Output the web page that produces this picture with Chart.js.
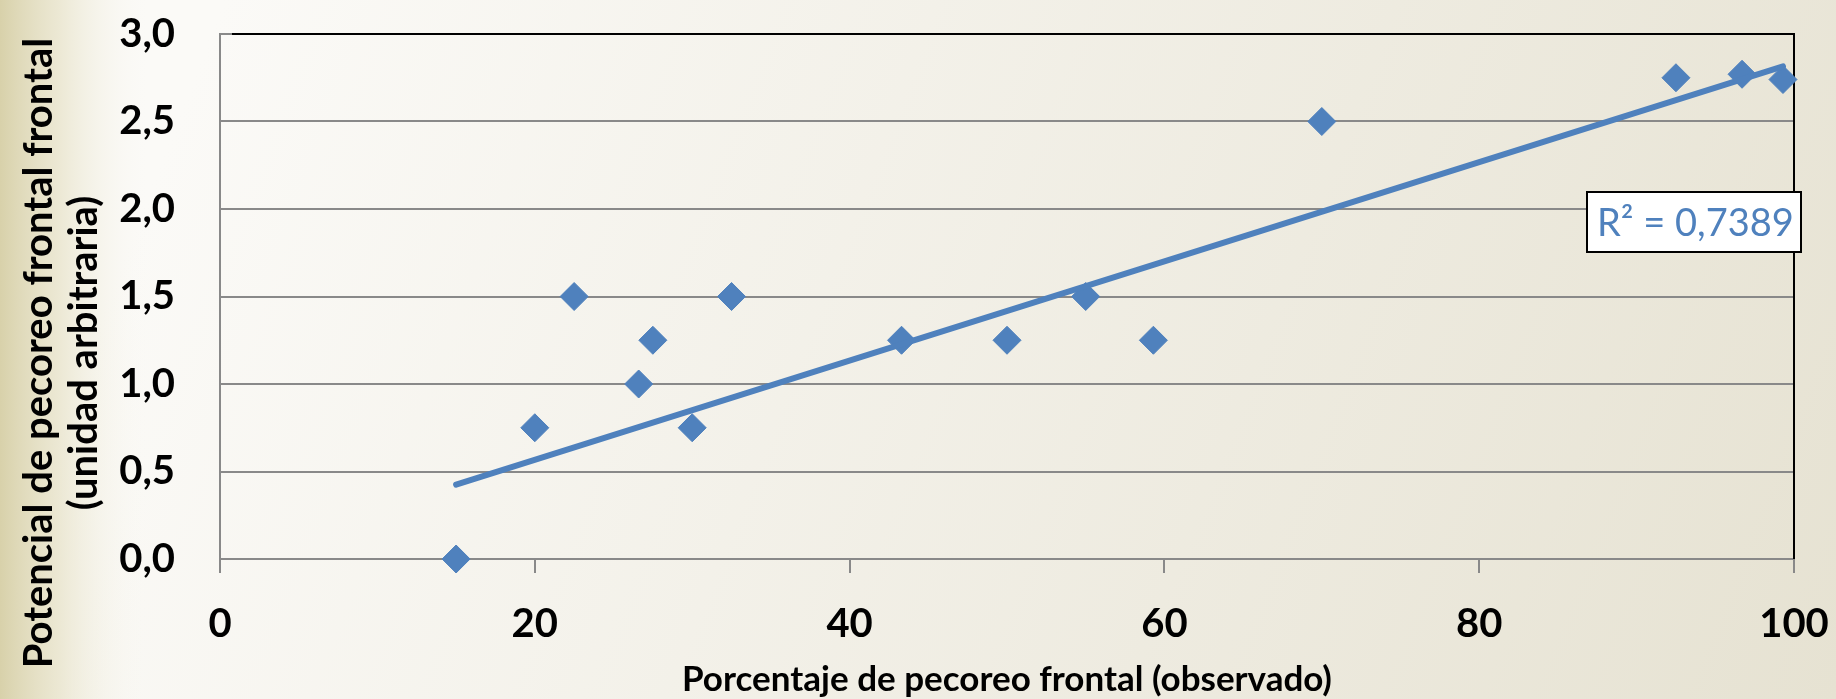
<!DOCTYPE html>
<html>
<head>
<meta charset="utf-8">
<script src="https://cdn.jsdelivr.net/npm/chart.js@4.4.1/dist/chart.umd.min.js"></script>
<style>
  html, body { margin: 0; padding: 0; background: #f7f6f1; }
  #wrap { position: relative; width: 1836px; height: 699px; }
</style>
</head>
<body>
<div id="wrap"><canvas id="pecoreoChart"></canvas></div>
<script>
// porcentaje observado vs potencial de pecoreo frontal
const pctObservado = [15, 20, 22.5, 26.6, 27.5, 30, 32.5, 43.3, 50, 55, 59.3, 70, 92.5, 96.7, 99.3];
const potencial    = [0, 0.75, 1.5, 1.0, 1.25, 0.75, 1.5, 1.25, 1.25, 1.5, 1.25, 2.5, 2.75, 2.77, 2.74];

// linea de tendencia (extremos)
const tendenciaX = [15, 99.3];
const tendenciaY = [0.425, 2.815];
const r2Label = 'R² = 0,7389';

const xTickLabels = ['0', '20', '40', '60', '80', '100'];
const yTickLabels = ['0,0', '0,5', '1,0', '1,5', '2,0', '2,5', '3,0'];

const xTitle = 'Porcentaje de pecoreo frontal (observado)';
const yTitle = ['Potencial de pecoreo frontal frontal', '(unidad arbitraria)'];

const azul = '#4F81BD';
const gris = '#898989';

const fondo = {
  id: 'fondo',
  beforeDraw(chart) {
    const { ctx, width, height } = chart;
    ctx.save();
    const g = ctx.createLinearGradient(200, 60, width, height);
    g.addColorStop(0, '#FBFAF7');
    g.addColorStop(1, '#E6E2D2');
    ctx.fillStyle = g;
    ctx.fillRect(0, 0, width, height);
    const s = ctx.createLinearGradient(0, 0, 150, 0);
    s.addColorStop(0, 'rgba(216,209,170,1)');
    s.addColorStop(0.4, 'rgba(230,225,198,0.7)');
    s.addColorStop(1, 'rgba(250,249,245,0)');
    ctx.fillStyle = s;
    ctx.fillRect(0, 0, 150, height);
    ctx.restore();
  }
};

const marco = {
  id: 'marco',
  beforeDatasetsDraw(chart) {
    const { ctx, chartArea: a } = chart;
    ctx.save();
    ctx.strokeStyle = '#000';
    ctx.lineWidth = 2;
    ctx.beginPath();
    ctx.moveTo(a.left + 12, a.top);
    ctx.lineTo(a.right, a.top);
    ctx.lineTo(a.right, a.bottom);
    ctx.stroke();
    ctx.restore();
  },
  afterDraw(chart) {
    const { ctx, chartArea: a } = chart;
    ctx.save();
    // titulo del eje Y, dos lineas giradas
    ctx.fillStyle = '#000';
    ctx.font = 'bold 40px Lato';
    ctx.textAlign = 'center';
    ctx.textBaseline = 'alphabetic';
    ctx.translate(52, 353);
    ctx.rotate(-Math.PI / 2);
    ctx.fillText(yTitle[0], 0, 0);
    ctx.fillText(yTitle[1], 0, 45);
    ctx.restore();

    // etiqueta R²
    ctx.save();
    const bx = a.right - 207, by = a.top + 158, bw = 214, bh = 60;
    ctx.fillStyle = '#fff';
    ctx.fillRect(bx, by, bw, bh);
    ctx.strokeStyle = '#000';
    ctx.lineWidth = 2;
    ctx.strokeRect(bx, by, bw, bh);
    ctx.fillStyle = azul;
    ctx.font = '38px Lato';
    ctx.textAlign = 'left';
    ctx.textBaseline = 'alphabetic';
    ctx.fillText(r2Label, bx + 10, by + 44);
    ctx.restore();
  }
};

new Chart(document.getElementById('pecoreoChart'), {
  type: 'scatter',
  data: {
    datasets: [
      {
        label: 'Tendencia',
        data: tendenciaX.map((x, i) => ({ x, y: tendenciaY[i] })),
        showLine: true,
        borderColor: azul,
        borderWidth: 6,
        borderCapStyle: 'round',
        pointRadius: 0,
        clip: false
      },
      {
        label: 'Observado',
        data: pctObservado.map((x, i) => ({ x, y: potencial[i] })),
        pointStyle: 'rectRot',
        pointRadius: 14,
        backgroundColor: azul,
        borderColor: azul,
        borderWidth: 1,
        clip: false
      }
    ]
  },
  options: {
    responsive: true,
    maintainAspectRatio: false,
    animation: false,
    layout: { padding: { top: 34, right: 42, left: 0, bottom: 0 } },
    plugins: { legend: { display: false }, tooltip: { enabled: false } },
    scales: {
      x: {
        type: 'linear',
        min: 0,
        max: 100,
        afterFit(scale) {
          scale.height = 140;
          scale.paddingLeft = 0;
          scale.paddingRight = 0;
        },
        ticks: {
          stepSize: 20,
          padding: 27,
          color: '#000',
          font: { family: 'Lato', weight: 'bold', size: 40 },
          callback: (v, i) => xTickLabels[i]
        },
        grid: { drawOnChartArea: false, drawTicks: true, tickLength: 14, color: gris, lineWidth: 2 },
        border: { color: gris, width: 2 },
        title: {
          display: true,
          text: xTitle,
          color: '#000',
          padding: { top: 0, bottom: 2 },
          font: { family: 'Lato', weight: 'bold', size: 35, lineHeight: 1 }
        }
      },
      y: {
        min: 0,
        max: 3,
        afterFit(scale) {
          scale.width = 220;
          scale.paddingTop = 0;
          scale.paddingBottom = 0;
        },
        ticks: {
          stepSize: 0.5,
          padding: 45,
          color: '#000',
          font: { family: 'Lato', weight: 'bold', size: 40 },
          callback: (v, i) => yTickLabels[i]
        },
        grid: { drawTicks: false, color: gris, lineWidth: 2 },
        border: { color: gris, width: 2 }
      }
    }
  },
  plugins: [fondo, marco]
});
</script>
</body>
</html>
